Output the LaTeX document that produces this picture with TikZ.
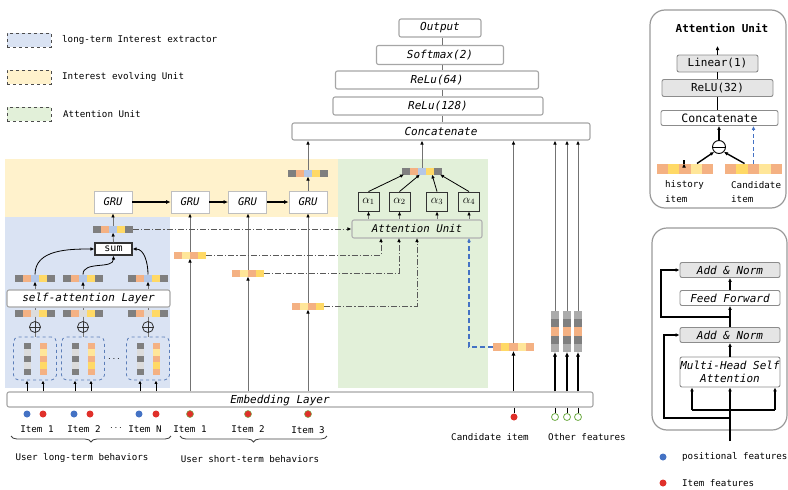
\documentclass[tikz,border=0pt]{standalone}
\usepackage{fontspec}
\setmainfont{DejaVu Sans Mono}
\usetikzlibrary{arrows.meta,calc,decorations.pathreplacing}
\definecolor{blueBG}{HTML}{DAE3F3}
\definecolor{yellowBG}{HTML}{FFF2CC}
\definecolor{greenBG}{HTML}{E2F0D9}
\definecolor{dg}{HTML}{7F7F7F}
\definecolor{lg}{HTML}{DCDCDC}
\definecolor{mg}{HTML}{ABABAB}
\definecolor{or}{HTML}{F4B183}
\definecolor{ye}{HTML}{FFD966}
\definecolor{ly}{HTML}{FFE699}
\definecolor{bl}{HTML}{B4C7E7}
\definecolor{blue1}{HTML}{4472C4}
\definecolor{red1}{HTML}{E0302A}
\definecolor{green1}{HTML}{70AD47}
\definecolor{dbblue}{HTML}{5B7DB8}
\newcommand{\hvec}[6]{%
  \xdef\mync{0}%
  \foreach \mycol in {#6} {\pgfmathtruncatemacro\mytmp{\mync+1}\xdef\mync{\mytmp}}%
  \pgfmathsetmacro\myw{\mync*#4}%
  \node[inner sep=0pt, outer sep=0pt, minimum width=\myw, minimum height=#5] (#1) at (#2,#3) {};%
  \foreach \mycol [count=\myi] in {#6} {\fill[\mycol] ([xshift={(\myi-1)*#4}]#1.north west) rectangle ++(#4,#5);}%
}
\newcommand{\vvec}[6]{%
  \xdef\mync{0}%
  \foreach \mycol in {#6} {\pgfmathtruncatemacro\mytmp{\mync+1}\xdef\mync{\mytmp}}%
  \pgfmathsetmacro\myh{\mync*#4}%
  \node[inner sep=0pt, outer sep=0pt, minimum width=#5, minimum height=\myh] (#1) at (#2,#3) {};%
  \foreach \mycol [count=\myi] in {#6} {\fill[\mycol] ([yshift={-(\myi-1)*#4}]#1.north west) rectangle ++(#5,#4);}%
}
\begin{document}
\begin{tikzpicture}[x=1pt,y=-1pt,
  tip/.style={-{Latex[length=4pt,width=3.6pt,color=black]}},
  ar/.style={draw=black!55, line width=0.8pt, tip},
  arb/.style={draw=black, line width=1.4pt, -{Latex[length=4.5pt,width=4.2pt]}},
  ark/.style={draw=black, line width=1.1pt, -{Latex[length=4pt,width=3.8pt]}},
  pl/.style={draw=black!55, line width=0.8pt},
  dd/.style={draw=black!65, line width=0.8pt, dash pattern=on 6pt off 2pt on 1.2pt off 2pt, tip},
  bd/.style={draw=blue1, line width=1.3pt, dash pattern=on 5pt off 3pt, -{Latex[length=4pt,width=3.8pt]}},
  gbox/.style={draw=black!35, line width=1.1pt, fill=white, rounded corners=2pt, inner sep=0pt, font=\fontsize{11}{13}\selectfont\itshape},
  grubox/.style={draw=black!25, line width=0.9pt, fill=white, inner sep=0pt, minimum width=38, minimum height=22, font=\fontsize{10.5}{12}\selectfont\itshape},
  abox/.style={draw=black!80, line width=0.9pt, inner sep=0pt, minimum width=21, minimum height=19, font=\fontsize{12}{14}\selectfont},
  lab/.style={font=\fontsize{9.2}{11}\selectfont, inner sep=0pt},
  legbox/.style={minimum width=44, minimum height=14, draw=black!70, dashed, line width=0.8pt, inner sep=0pt},
  dot/.style={circle, minimum size=7, inner sep=0pt},
  dbox/.style={draw=dbblue, dashed, rounded corners=5pt, line width=0.8pt, minimum width=43, minimum height=43, inner sep=0pt},
  opl/.style={circle, draw=black!80, line width=0.8pt, minimum size=11, inner sep=0pt},
  rbox/.style={draw=black!45, line width=0.9pt, rounded corners=2pt, inner sep=0pt, font=\fontsize{11}{13}\selectfont},
  outer/.style={draw=black!40, line width=1.2pt, rounded corners=15pt}
]
\useasboundingbox (0,0) rectangle (788,490);

% ---------- legend ----------
\node[legbox, fill=blueBG] (lg1) at (29,40) {};
\node[lab, anchor=west] (lt1) at (62,40) {long-term Interest extractor};
\node[legbox, fill=yellowBG] (lg2) at (29,77) {};
\node[lab, anchor=west] (lt2) at (62,77) {Interest evolving Unit};
\node[legbox, fill=greenBG] (lg3) at (29,114) {};
\node[lab, anchor=west] (lt3) at (63,114) {Attention Unit};

% ---------- regions ----------
\fill[yellowBG] (5,159) rectangle (338,217);
\fill[blueBG] (5,217) rectangle (170,388);
\fill[greenBG] (338,159) rectangle (488,388);

% ---------- top stack ----------
\node[gbox, minimum width=298, minimum height=17] (concat) at (441,131.5) {Concatenate};
\node[gbox, minimum width=210, minimum height=18] (r128) at (438,106) {ReLu(128)};
\node[gbox, minimum width=203, minimum height=18] (r64) at (437,80) {ReLu(64)};
\node[gbox, minimum width=127, minimum height=19] (smax) at (440,55) {Softmax(2)};
\node[gbox, minimum width=82, minimum height=18] (outp) at (440,28) {Output};
\draw[pl] (outp.south -| 442,0) -- (smax.north -| 442,0);
\draw[pl] (smax.south -| 442,0) -- (r64.north -| 442,0);
\draw[pl] (r64.south -| 442,0) -- (r128.north -| 442,0);
\draw[pl] (r128.south -| 442,0) -- (concat.north -| 442,0);

% ---------- embedding ----------
\node[gbox, minimum width=586, minimum height=15] (emb) at (300,399.5) {};
\node[font=\fontsize{11}{13}\selectfont\itshape, inner sep=0pt] (embt) at (280,400) {Embedding Layer};

% ---------- GRUs ----------
\node[grubox] (gru1) at (113,202) {GRU};
\node[grubox] (gru2) at (190,202) {GRU};
\node[grubox] (gru3) at (247.5,202) {GRU};
\node[grubox] (gru4) at (308,202) {GRU};
\draw[arb] (gru1) -- (gru2);
\draw[arb] (gru2) -- (gru3);
\draw[arb] (gru3) -- (gru4);
\hvec{gv}{308}{173}{8}{7}{dg,or,bl,ye,dg}
\draw[ar] (gru4.north) -- (gv.south);
\draw[ar] (gv.north) -- (gv.north |- concat.south);

% ---------- long-term extractor ----------
\hvec{sv}{113}{229}{8}{7}{dg,or,bl,ye,dg}
\node[draw=black!80, line width=1.2pt, fill=white, minimum width=37, minimum height=12, inner sep=0pt, font=\fontsize{10}{12}\selectfont] (sum) at (113.5,249) {sum};
\draw[ar] (sum.north) -- (sv.south);
\draw[ar] (sv.north) -- (gru1.south);

\hvec{sa1}{35}{278}{8}{7}{dg,or,bl,ye,dg}
\hvec{sa2}{83}{278}{8}{7}{dg,or,bl,ye,dg}
\hvec{sa3}{148}{278}{8}{7}{dg,or,bl,ye,dg}
\draw[draw=black, line width=0.8pt, -{Latex[length=4pt,width=3.6pt]}] (sa1.north) to[out=90,in=180] (sum.west);
\draw[draw=black, line width=0.8pt, -{Latex[length=4pt,width=3.6pt]}] (sa2.north) to[out=90,in=-90] (sum.south);
\draw[draw=black, line width=0.8pt, -{Latex[length=4pt,width=3.6pt]}] (sa3.north) to[out=90,in=0] (sum.east);

\node[gbox, minimum width=163, minimum height=17] (sal) at (88.5,298.5) {self-attention Layer};
\draw[ar] (sal.north -| sa1) -- (sa1.south);
\draw[ar] (sal.north -| sa2) -- (sa2.south);
\draw[ar] (sal.north -| sa3) -- (sa3.south);

\hvec{pv1}{35}{313}{8}{7}{dg,or,lg,ye,dg}
\hvec{pv2}{83}{313}{8}{7}{dg,or,lg,ye,dg}
\hvec{pv3}{148}{313}{8}{7}{dg,or,lg,ye,dg}
\draw[pl] (pv1.north) -- (pv1.north |- sal.south);
\draw[pl] (pv2.north) -- (pv2.north |- sal.south);
\draw[pl] (pv3.north) -- (pv3.north |- sal.south);

\node[opl] (op1) at (35,327) {};
\node[opl] (op2) at (83,327) {};
\node[opl] (op3) at (148,327) {};
\foreach \o in {op1,op2,op3} {\draw[black!80, line width=0.8pt] (\o.north) -- (\o.south) (\o.west) -- (\o.east);}

\node[dbox] (db1) at (35,358.5) {};
\node[dbox] (db2) at (83,358.5) {};
\node[dbox] (db3) at (148,358.5) {};
\foreach \i in {1,2,3} {
  \draw[pl] (pv\i.south) -- (op\i.north);
  \draw[pl] (op\i.south) -- (db\i.north);
}
\vvec{g1}{27}{359}{6.4}{7}{dg,lg,dg,lg,dg}
\vvec{o1}{43}{359}{6.4}{7}{or,ly,or,ye,or}
\vvec{g2}{75}{359}{6.4}{7}{dg,lg,dg,lg,dg}
\vvec{o2}{91}{359}{6.4}{7}{or,ly,or,ye,or}
\vvec{g3}{140}{359}{6.4}{7}{dg,lg,dg,lg,dg}
\vvec{o3}{156}{359}{6.4}{7}{or,ly,or,ye,or}
\node[inner sep=0pt] (dots1) at (114,359) {$\cdots$};
\foreach \v/\b in {g1/db1,o1/db1,g2/db2,o2/db2,g3/db3,o3/db3} {
  \draw[draw=black, line width=0.8pt, -{Latex[length=3.5pt,width=3.4pt]}] (emb.north -| \v) -- (\v |- \b.south);
}

% ---------- short-term ----------
\hvec{st1}{190}{255}{8}{7}{or,ly,or,ye}
\hvec{st2}{248}{273}{8}{7}{or,ly,or,ye}
\hvec{st3}{308}{306}{8}{7}{or,ly,or,ye}
\draw[ar] (emb.north -| st1) -- (st1.south);
\draw[ar] (st1.north) -- (st1.north |- gru2.south);
\draw[ar] (emb.north -| st2) -- (st2.south);
\draw[ar] (st2.north) -- (st2.north |- gru3.south);
\draw[ar] (emb.north -| st3) -- (st3.south);
\draw[ar] (st3.north) -- (st3.north |- gru4.south);

% ---------- attention ----------
\node[gbox, draw=black!30, fill=greenBG, minimum width=130, minimum height=18, font=\fontsize{10.7}{12}\selectfont\itshape] (au) at (417,229) {Attention Unit};
\node[abox] (a1) at (368.5,201.5) {$\alpha_1$};
\node[abox] (a2) at (399.5,201.5) {$\alpha_2$};
\node[abox] (a3) at (437,201.5) {$\alpha_3$};
\node[abox] (a4) at (469,201.5) {$\alpha_4$};
\foreach \a in {a1,a2,a3,a4} {\draw[ar] (au.north -| \a) -- (\a.south);}
\hvec{ao}{422}{171}{8}{7}{dg,or,bl,ye,dg}
\draw[draw=black, line width=0.8pt, -{Latex[length=4pt,width=3.6pt]}] (a1.north) -- ($(ao.south west)+(2,0)$);
\draw[draw=black, line width=0.8pt, -{Latex[length=4pt,width=3.6pt]}] (a2.north) -- ($(ao.south west)+(18,0)$);
\draw[draw=black, line width=0.8pt, -{Latex[length=4pt,width=3.6pt]}] (a3.north) -- ($(ao.south west)+(30,0)$);
\draw[draw=black, line width=0.8pt, -{Latex[length=4pt,width=3.6pt]}] (a4.north) -- ($(ao.south west)+(38,0)$);
\draw[ar] (ao.north) -- (ao.north |- concat.south);

\coordinate (au1) at (381,238);
\coordinate (au2) at (399,238);
\coordinate (au3) at (417,238);
\coordinate (au4) at (469,238);
\draw[dd] (sv.east) -- (sv.east -| au.west);
\draw[dd] (st1.east) -| (au1);
\draw[dd] (st2.east) -| (au2);
\draw[dd] (st3.east) -| (au3);

% candidate
\hvec{cv}{513.5}{347}{8.2}{8}{or,ye,or,ly,or}
\draw[bd] (cv.west) -| (au4);
\draw[arb] (emb.north -| cv) -- (cv.south);
\draw[ar] (cv.north) -- (cv.north |- concat.south);

% other features
\vvec{of1}{555}{331.5}{8.2}{8}{mg,dg,or,dg,mg}
\vvec{of2}{567}{331.5}{8.2}{8}{mg,dg,or,dg,mg}
\vvec{of3}{578}{331.5}{8.2}{8}{mg,dg,or,dg,mg}
\foreach \o in {of1,of2,of3} {
  \draw[arb] (emb.north -| \o) -- (\o.south);
  \draw[ar] (\o.north) -- (\o.north |- concat.south);
}

% ---------- inputs below embedding ----------
\node[dot, fill=blue1] (pb1) at (27,414) {};
\node[dot, fill=red1] (pr1) at (43,414) {};
\node[dot, fill=blue1] (pb2) at (74,414) {};
\node[dot, fill=red1] (pr2) at (90,414) {};
\node[dot, fill=blue1] (pb3) at (139,414) {};
\node[dot, fill=red1] (pr3) at (156,414) {};
\node[dot, fill=red1, draw=green1, line width=0.5pt] (sr1) at (190,414) {};
\node[dot, fill=red1, draw=green1, line width=0.5pt] (sr2) at (248,414) {};
\node[dot, fill=red1, draw=green1, line width=0.5pt] (sr3) at (308,414) {};
\node[dot, fill=red1] (cd) at (514,417) {};
\draw[black, line width=1pt] (emb.south -| cd) -- (cd.north);
\node[dot, draw=green1, fill=white, line width=0.8pt] (ot1) at (555,417) {};
\node[dot, draw=green1, fill=white, line width=0.8pt] (ot2) at (567,417) {};
\node[dot, draw=green1, fill=white, line width=0.8pt] (ot3) at (578,417) {};
\foreach \o in {ot1,ot2,ot3} {\draw[black, line width=1pt] (emb.south -| \o) -- (\o.north);}

\node[lab] (li1) at (37,429) {Item 1};
\node[lab] (li2) at (84,429) {Item 2};
\node[inner sep=0pt] (ldots) at (116,428) {$\cdots$};
\node[lab] (liN) at (145,429) {Item N};
\node[lab] (si1) at (190,429) {Item 1};
\node[lab] (si2) at (248,429) {Item 2};
\node[lab] (si3) at (308,430) {Item 3};
\draw[decorate, decoration={brace, amplitude=6pt}, black!75, line width=0.8pt] (171,436) -- (11,436);
\draw[decorate, decoration={brace, amplitude=6pt}, black!75, line width=0.8pt] (327,436) -- (180,436);
\node[lab] (ulong) at (82,458) {User long-term behaviors};
\node[lab] (ushort) at (250,459) {User short-term behaviors};
\node[lab] (cit) at (490,437) {Candidate item};
\node[lab] (oft) at (587,437) {Other features};

% ---------- right top: attention unit detail ----------
\draw[outer] (650,10) rectangle (786,208);
\node[font=\fontsize{11}{13}\selectfont\bfseries, inner sep=0pt] (aut) at (722,28) {Attention Unit};
\node[rbox, fill=black!10, minimum width=81, minimum height=17] (lin) at (717.5,63.5) {Linear(1)};
\node[rbox, fill=black!10, minimum width=111, minimum height=17] (r32) at (717.5,88) {ReLU(32)};
\node[rbox, fill=white, minimum width=117, minimum height=15, font=\fontsize{11.5}{13}\selectfont] (cc2) at (719.5,118) {Concatenate};
\coordinate (auout) at (717.5,46);
\draw[ark] (lin.north) -- (auout);
\draw[black, line width=1.1pt] (lin.south) -- (lin.south |- r32.north);
\draw[black, line width=1.1pt] (r32.south) -- (r32.south |- cc2.north);
\node[circle, draw=black, line width=0.9pt, minimum size=13, inner sep=0pt, fill=white] (mc) at (719,147) {};
\draw[black, line width=0.9pt] (mc.west) -- (mc.east);
\draw[ark] (mc.north) -- (mc.north |- cc2.south);
\hvec{hv}{685}{168.5}{11.2}{10}{or,ye,or,ly,or}
\hvec{cdv}{753.5}{168.5}{11.4}{10}{or,ye,or,ly,or}
\draw[ark] ($(hv.north)+(-1,0)$) -- ($(hv.north)+(-1,0)$ |- cc2.south);
\draw[ark, line width=1.4pt] ($(hv.north)+(12,0)$) -- (mc.south west);
\draw[ark, line width=1.4pt] ($(cdv.north)+(-9,0)$) -- (mc.south east);
\draw[draw=blue1, line width=1.1pt, dash pattern=on 4pt off 2.5pt, -{Latex[length=4pt,width=3.8pt]}] (cdv.north) -- (cdv.north |- cc2.south);
\node[lab, anchor=west] (ht1) at (665,185) {history};
\node[lab, anchor=west] (ht2) at (665,199) {item};
\node[lab, anchor=west] (ct1) at (731,185) {Candidate};
\node[lab, anchor=west] (ct2) at (731,199) {item};

% ---------- right bottom: self-attention detail ----------
\draw[outer] (652,228) rectangle (787,430);
\node[rbox, fill=black!10, minimum width=100, minimum height=15, font=\fontsize{11}{13}\selectfont\itshape] (an1) at (730,270) {Add \& Norm};
\node[rbox, fill=white, minimum width=100, minimum height=15, font=\fontsize{11}{13}\selectfont\itshape] (ff) at (730,298) {Feed Forward};
\node[rbox, fill=black!10, minimum width=100, minimum height=15, font=\fontsize{11}{13}\selectfont\itshape] (an2) at (730,335) {Add \& Norm};
\node[rbox, fill=white, minimum width=100, minimum height=30, align=center, font=\fontsize{11}{13.5}\selectfont\itshape] (mh) at (730,372) {Multi-Head Self\\ Attention};
\draw[ark] (mh.north) -- (an2.south);
\draw[ark] (an2.north) -- (ff.south);
\draw[ark] (ff.north) -- (an1.south);
\coordinate (j1) at (730,317);
\coordinate (r1) at (661,317);
\draw[ark] (j1) -- (r1) |- (an1.west);
\coordinate (inp) at (730,441);
\coordinate (j2) at (730,418);
\coordinate (r2) at (664,418);
\draw[ark] (j2) -- (r2) |- (an2.west);
\draw[ark] (inp) -- (mh.south);
\coordinate (fl) at (692,410);
\coordinate (fr) at (775,410);
\draw[black, line width=1.1pt] (fl) -- (fr);
\draw[ark] (fl) -- (fl |- mh.south);
\draw[ark] (fr) -- (fr |- mh.south);

\node[dot, fill=blue1] (lgb) at (663,457) {};
\node[lab, anchor=west] (lgbt) at (682,457) {positional features};
\node[dot, fill=red1] (lgr) at (663,483) {};
\node[lab, anchor=west] (lgrt) at (682,483) {Item features};
\end{tikzpicture}
\end{document}
